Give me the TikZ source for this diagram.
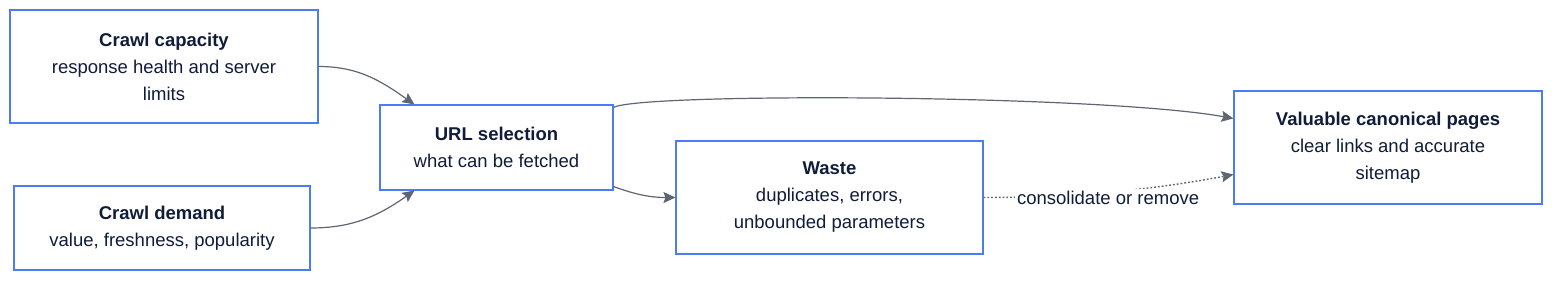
\documentclass[tikz,border=0pt]{standalone}
\usepackage{fontspec}
\setmainfont{Liberation Sans}
\usetikzlibrary{arrows.meta}
\definecolor{boxblue}{HTML}{4C7CF3}
\definecolor{inkblue}{HTML}{0F1C3A}
\definecolor{edgegray}{HTML}{5E6573}
\begin{document}
\begin{tikzpicture}[x=1pt, y=-1pt,
    stage/.style={draw=boxblue, line width=1.1pt, fill=white, align=center, text=inkblue,
      font=\fontsize{18.5}{27}\selectfont, inner sep=0pt},
    flow/.style={draw=edgegray, line width=1.2pt, -{Stealth[length=12pt, width=11pt, inset=2pt]}},
    hint/.style={flow, line width=1.4pt, dash pattern=on 1.8pt off 2pt},
    tag/.style={fill=white, text=inkblue, font=\fontsize{18.5}{20}\selectfont, inner sep=2pt}]
  \useasboundingbox (0,0) rectangle (1568,286);

  % 1. inputs
  \node[stage, minimum width=308pt, minimum height=113pt] (cap) at (164,66.5)
    {\textbf{Crawl capacity}\\response health and server\\limits};
  \node[stage, minimum width=296pt, minimum height=84pt] (demand) at (162,228)
    {\textbf{Crawl demand}\\value, freshness, popularity};

  % 2. selection and outcomes
  \node[stage, minimum width=233pt, minimum height=85pt] (url) at (496.5,147.5)
    {\textbf{URL selection}\\what can be fetched};
  \node[stage, minimum width=307pt, minimum height=113pt] (waste) at (829.5,197.5)
    {\textbf{Waste}\\duplicates, errors,\\unbounded parameters};
  \node[stage, minimum width=308pt, minimum height=113pt] (valuable) at (1388,147.5)
    {\textbf{Valuable canonical pages}\\clear links and accurate\\sitemap};

  % 3. connectors
  \draw[flow] (cap.east) to[out=0, in=145] ([xshift=35pt]url.north west);
  \draw[flow] (demand.east) to[out=0, in=-145] ([xshift=35pt]url.south west);
  \draw[flow] ([yshift=-3pt]url.north east) .. controls +(27,-15) and +(-134,-24) .. ([yshift=-28pt]valuable.north west);
  \draw[flow] ([yshift=4pt]url.south east) to[out=-20, in=180] (waste.west);
  \draw[hint] (waste.east) .. controls +(117,0) and +(-54,10) .. ([yshift=30pt]valuable.south west)
    node[tag, pos=0.5, xshift=-24pt, yshift=-8pt] (fix) {consolidate or remove};
\end{tikzpicture}
\end{document}
